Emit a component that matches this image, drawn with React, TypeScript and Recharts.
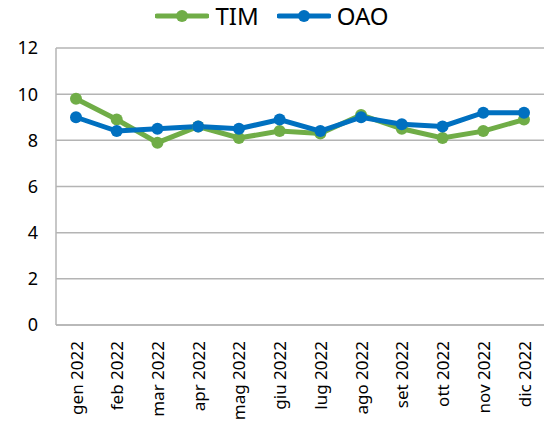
import { LineChart, Line, XAxis, YAxis, CartesianGrid } from "recharts";

const months = [
  "gen 2022", "feb 2022", "mar 2022", "apr 2022", "mag 2022", "giu 2022",
  "lug 2022", "ago 2022", "set 2022", "ott 2022", "nov 2022", "dic 2022",
];
const tim = [9.8, 8.9, 7.9, 8.6, 8.1, 8.4, 8.3, 9.1, 8.5, 8.1, 8.4, 8.9];
const oao = [9.0, 8.4, 8.5, 8.6, 8.5, 8.9, 8.4, 9.0, 8.7, 8.6, 9.2, 9.2];
const yTicks = [0, 2, 4, 6, 8, 10, 12];

const GREEN = "#70AD47";
const BLUE = "#0070C0";
const GRID = "#B4B4B4";
const FONT = "'Noto Sans', sans-serif";

const data = months.map((m, i) => ({ month: m, TIM: tim[i], OAO: oao[i] }));

function MonthTick({ x, y, payload }: any) {
  return (
    <text
      x={x}
      y={y}
      transform={`rotate(-90, ${x}, ${y})`}
      textAnchor="end"
      dominantBaseline="central"
      fontSize={17}
      fontFamily={FONT}
      fill="#000"
    >
      {payload.value}
    </text>
  );
}

// legenda in alto, fuori dal grafico
function LegendBox() {
  const items = [
    { name: "TIM", color: GREEN },
    { name: "OAO", color: BLUE },
  ];
  return (
    <div
      style={{
        position: "absolute",
        top: 2,
        left: 0,
        width: 544,
        display: "flex",
        justifyContent: "center",
        gap: 18,
        fontFamily: FONT,
        fontSize: 24,
      }}
    >
      {items.map((it) => (
        <div key={it.name} style={{ display: "flex", alignItems: "center", gap: 6 }}>
          <svg width={54} height={14}>
            <line x1={2} y1={7} x2={52} y2={7} stroke={it.color} strokeWidth={5} strokeLinecap="round" />
            <circle cx={27} cy={7} r={6} fill={it.color} />
          </svg>
          <span style={{ color: "#000", lineHeight: "28px" }}>{it.name}</span>
        </div>
      ))}
    </div>
  );
}

export default function App() {
  return (
    <div style={{ position: "absolute", left: 0, top: 0, width: 544, height: 428, background: "#fff" }}>
      <LegendBox />
      <LineChart width={544} height={428} data={data} margin={{ top: 48, right: 0, left: 0, bottom: 0 }}>
        <CartesianGrid vertical={false} stroke={GRID} strokeWidth={1.5} />
        <XAxis
          dataKey="month"
          height={103}
          interval={0}
          padding={{ left: 20, right: 20 }}
          tick={<MonthTick />}
          tickLine={false}
          axisLine={{ stroke: GRID, strokeWidth: 1.5 }}
          tickMargin={10}
        />
        <YAxis
          width={56}
          domain={[0, 12]}
          ticks={yTicks}
          tick={{ fontSize: 18, fill: "#000", fontFamily: FONT }}
          tickLine={false}
          axisLine={{ stroke: GRID, strokeWidth: 1.5 }}
          tickMargin={12}
        />
        <Line
          dataKey="TIM"
          stroke={GREEN}
          strokeWidth={5}
          dot={{ r: 6, fill: GREEN, stroke: GREEN, strokeWidth: 0 }}
          isAnimationActive={false}
        />
        <Line
          dataKey="OAO"
          stroke={BLUE}
          strokeWidth={5}
          dot={{ r: 6, fill: BLUE, stroke: BLUE, strokeWidth: 0 }}
          isAnimationActive={false}
        />
      </LineChart>
    </div>
  );
}
